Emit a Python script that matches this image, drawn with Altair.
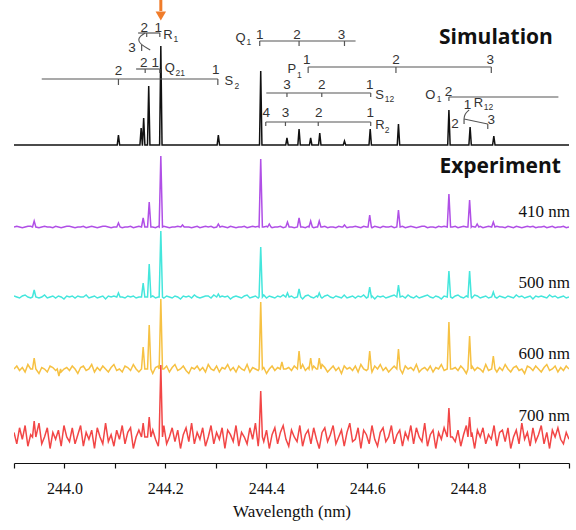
import altair as alt
import pandas as pd

# ---------------- layout constants ----------------
H = 463                      # plot height (value units == px)
WL_MIN, WL_MAX = 243.9, 245.0

# ---------------- data ----------------
tick_values = [243.9, 244.0, 244.1, 244.2, 244.3, 244.4, 244.5, 244.6, 244.7, 244.8, 244.9, 245.0]

trace_names = ["Simulation", "410 nm", "500 nm", "600 nm", "700 nm"]
trace_colors = ["#111111", "#B04FE6", "#44E6DC", "#F6C143", "#F24646"]

# Simulation peaks (wavelength nm, intensity a.u.)
sim_pos = [244.107, 244.152, 244.157, 244.167, 244.191, 244.305, 244.389, 244.441,
           244.465, 244.488, 244.506, 244.555, 244.606, 244.662, 244.762, 244.804, 244.851]
sim_int = [10, 17, 27, 59, 99, 10, 74, 7, 16, 7, 12, 4, 16, 21, 35, 18, 9]

# Experimental peaks
p410_pos = [243.940, 244.107, 244.156, 244.168, 244.191, 244.234, 244.305, 244.389, 244.406,
            244.442, 244.465, 244.488, 244.505, 244.555, 244.605, 244.662, 244.762, 244.803,
            244.818, 244.850]
p410_int = [6, 4, 9, 25, 71, 2, 3, 68, 3, 5, 9, 6, 6, 2, 12, 17, 33, 27, 3, 5]

p500_pos = [243.940, 244.107, 244.156, 244.168, 244.191, 244.305, 244.389, 244.442, 244.465,
            244.505, 244.605, 244.662, 244.762, 244.803, 244.850]
p500_int = [7, 4, 14, 33, 66, 3, 50, 4, 8, 4, 10, 12, 26, 26, 5]

p600_pos = [243.940, 243.989, 244.156, 244.168, 244.191, 244.389, 244.431, 244.465, 244.488,
            244.505, 244.605, 244.662, 244.762, 244.803, 244.850]
p600_int = [11, -7, 22, 44, 70, 67, 7, 18, 11, 11, 18, 20, 47, 33, 13]

p700_pos = [243.940, 244.156, 244.168, 244.191, 244.389, 244.762, 244.803]
p700_int = [16, 14, 20, 72, 46, 29, 20]

noise410 = [0,1,0,-1,0,1,1,0,-1,-1, 0,1,0,0,-1,1,0,-1,0,1, 1,0,-1,0,0,1,-1,0,1,0,
            -1,0,1,1,0,-1,0,1,0,-1, 0,0,1,-1,0,1,0,-1,1,0, 0,-1,1,0,1,0,-1,0,0,1,
            -1,1,0,0,-1,0,1,-1,0,1, 0,1,-1,0,0,1,0,-1,1,0, -1,0,0,1,-1,0,1,0,1,-1,
            0,1,0,-1,0,0,1,-1,0,1, 0,-1,1,0,0,-1,1,0,-1,0, 1,0,1,-1,0,0,-1,1,0,1,
            -1,0,0,1,0,-1,1,0,0,-1, 1,0,-1,1,0,0,1,-1,0,0, 1,-1,0,1,0,-1,0,1,1,-1,
            0,0,-1,1,0,1,-1,0,0,1, -1,0,1,0,-1,1,0,0,1,-1, 0,1,-1,0,1,0,0,-1,1,0,
            -1,1,0,-1,0,1,0,1,-1,0, 0,1,-1,0,1,-1,0,0,1,-1, 0]
noise500 = [1,0,-1,1,2,0,-1,0,1,-1, 0,2,-1,0,1,-1,1,0,-2,1, 0,1,-1,1,0,0,2,-1,0,1,
            -1,0,1,-2,1,0,1,-1,2,0, -1,1,0,1,-1,0,2,0,-1,1, 1,-1,0,2,-1,1,0,-1,1,0,
            -2,1,0,1,-1,2,0,-1,0,1, 1,-1,2,0,-1,1,0,1,-2,0, 1,0,-1,1,2,-1,0,1,-1,0,
            2,-1,1,0,-1,1,0,2,-1,0, 1,-1,0,1,-2,1,2,0,-1,1, 0,-1,1,2,0,-1,1,0,-1,2,
            -1,0,1,-1,1,0,2,-1,0,1, -2,1,0,1,-1,0,1,2,-1,0, 1,-1,2,0,-1,1,-1,0,1,2,
            0,-1,1,0,-2,1,0,1,-1,1, 2,0,-1,1,0,-1,2,1,-1,0, 1,-1,0,2,-1,1,0,-1,1,0,
            -1,2,0,1,-1,0,1,-2,1,0, 1,0,-1,2,0,1,-1,0,1,-1, 0]
noise600 = [0,2,-1,1,-2,3,0,-1,2,-3, 1,0,-2,2,1,-1,3,-2,0,1, -1,2,0,-3,1,2,-1,0,3,-2,
            1,-1,2,0,-2,1,3,-1,0,-2, 2,1,-1,3,0,-2,1,-1,2,0, -3,1,2,-1,0,2,-2,1,3,-1,
            0,2,-1,-3,1,0,2,-1,1,-2, 3,0,-1,2,-2,1,0,3,-1,1, -2,2,0,-1,3,-2,1,0,-1,2,
            1,-3,0,2,-1,1,3,-2,0,1, -1,2,-2,0,3,-1,1,-2,2,0, -1,3,1,-2,0,2,-1,1,-3,2,
            0,1,-1,2,-2,3,0,-1,1,-2, 2,0,3,-1,1,-2,0,2,-1,1, -3,2,0,1,-1,3,-2,0,1,-1,
            2,-2,1,0,3,-1,2,-2,0,1, -1,2,0,-3,1,2,-1,1,0,-2, 3,-1,0,2,-2,1,-1,3,0,-2,
            1,2,-1,0,-3,2,1,-1,2,0, -2,1,3,-1,0,2,-2,1,-1,2, 0]
noise700 = [2,-3,4,-1,5,-4,1,3,-2,6, -3,0,4,-5,2,-1,3,-4,5,0, -2,4,-3,1,5,-4,2,-1,3,-5,
            4,0,-3,6,-2,1,-4,3,-1,5, -3,2,4,-5,0,3,-2,5,-4,1, 3,-1,-4,2,5,-3,0,4,-2,3,
            -5,1,4,-2,6,-3,2,-1,4,-4, 0,5,-3,2,-1,4,-5,3,1,-2, 5,-4,2,0,-3,4,-1,6,-4,2,
            -2,3,-5,1,4,-3,2,5,-1,-4, 3,0,-2,5,-4,1,3,-3,4,-1, -5,2,4,-2,1,5,-3,0,3,-4,
            2,6,-2,-1,4,-5,3,1,-3,5, -1,-4,2,4,-2,0,5,-3,1,3, -4,2,-1,5,-3,4,0,-2,6,-4,
            1,3,-5,2,-1,4,-3,5,0,-2, 3,-4,1,5,-2,2,-5,3,0,4, -3,1,-1,5,-4,2,3,-2,4,-5,
            0,3,-3,6,-1,2,-4,4,-2,1, 5,-3,2,-5,3,0,4,-1,-3,2, -1]

# trace vertical offsets and noise scale (layout)
offsets = {"Simulation": 318, "410 nm": 236, "500 nm": 166, "600 nm": 94, "700 nm": 26}
noise_scale = {"410 nm": 0.7, "500 nm": 1.0, "600 nm": 1.5, "700 nm": 2.3}

# ---------------- annotation data (assignments) ----------------
bar_x1 = [244.146, 244.142, 243.955, 244.387, 244.483, 244.400, 244.399, 244.762]
bar_x2 = [244.189, 244.189, 244.304, 244.577, 244.846, 244.607, 244.607, 244.979]
bar_v = [430, 394, 384, 422, 396, 370, 341, 366]

tick_x = [244.163, 244.189, 244.160, 244.189, 244.107, 244.304, 244.387, 244.465, 244.555,
          244.483, 244.657, 244.846, 244.441, 244.510, 244.607, 244.399, 244.438, 244.503,
          244.607, 244.762, 244.153, 244.792, 244.839]
tick_v1 = [430, 430, 394, 394, 384, 384, 422, 422, 422, 396, 396, 396, 370, 370, 370,
           341, 341, 341, 341, 366, 418, 344, 339]
tick_v2 = [426, 426, 390, 390, 378, 378, 417, 417, 417, 390, 390, 390, 366, 366, 366,
           337, 337, 337, 337, 362, 412, 339, 334]

num_text = ["2", "1", "3", "2", "1", "2", "1", "1", "2", "3", "1", "2", "3",
            "3", "2", "1", "4", "3", "2", "1", "2", "1", "2", "3"]
num_x = [244.158, 244.186, 244.134, 244.157, 244.180, 244.107, 244.300, 244.387, 244.461,
         244.549, 244.480, 244.657, 244.844, 244.441, 244.510, 244.605, 244.400, 244.438,
         244.504, 244.606, 244.761, 244.799, 244.774, 244.846]
num_v = [435, 435, 415, 400, 400, 392, 393, 428, 428, 428, 403, 403, 403, 378, 378, 378,
         350, 350, 350, 350, 371, 358, 339, 343]

branch_letter = ["R", "Q", "S", "Q", "P", "S", "R", "O", "R"]
branch_sub = ["1", "21", "2", "1", "1", "12", "2", "1", "12"]
branch_x = [244.196, 244.199, 244.317, 244.339, 244.442, 244.616, 244.616, 244.715, 244.811]
branch_v = [428, 395, 382, 425, 394, 368, 338, 368, 360]
sub_x = [244.216, 244.220, 244.337, 244.361, 244.461, 244.635, 244.635, 244.738, 244.831]
sub_v = [424, 390, 377, 421, 388, 364, 333, 364, 356]

curve_grp = ["a", "a", "a", "a", "a", "b", "b", "b", "c", "c"]
curve_x = [244.160, 244.150, 244.146, 244.150, 244.170, 244.802, 244.793, 244.792, 244.792, 244.839]
curve_v = [430, 427, 423, 419, 413, 353, 349, 344, 344, 339]

arrow_x = [244.191]
panel_titles = ["Simulation", "Experiment"]
trace_labels = ["410 nm", "500 nm", "600 nm", "700 nm"]


# ---------------- build tables ----------------
def build(name, pos, ints, noise, hw):
    base = offsets[name]
    pts = []
    if noise is None:
        pts = [(WL_MIN, base), (WL_MAX, base)]
    else:
        n = len(noise)
        sc = noise_scale[name]
        for i, val in enumerate(noise):
            g = WL_MIN + (WL_MAX - WL_MIN) * i / (n - 1)
            if all(abs(g - p) > hw * 1.3 for p in pos):
                pts.append((g, base + sc * val))
    for p, h in zip(pos, ints):
        pts += [(p - hw, base), (p, base + h), (p + hw, base)]
    pts.sort()
    return pd.DataFrame({"wl": [a for a, _ in pts], "v": [b for _, b in pts],
                         "trace": name, "idx": list(range(len(pts)))})


spec = pd.concat([
    build("Simulation", sim_pos, sim_int, None, 0.0024),
    build("410 nm", p410_pos, p410_int, noise410, 0.0033),
    build("500 nm", p500_pos, p500_int, noise500, 0.0033),
    build("600 nm", p600_pos, p600_int, noise600, 0.0033),
    build("700 nm", p700_pos, p700_int, noise700, 0.0033),
], ignore_index=True)

bars = pd.DataFrame({"x": bar_x1, "x2": bar_x2, "v": bar_v})
ticks = pd.DataFrame({"x": tick_x, "v": tick_v1, "v2": tick_v2})
nums = pd.DataFrame({"x": num_x, "v": num_v, "t": num_text})
letters = pd.DataFrame({"x": branch_x, "v": branch_v, "t": branch_letter})
subs = pd.DataFrame({"x": sub_x, "v": sub_v, "t": branch_sub})
curves = pd.DataFrame({"x": curve_x, "v": curve_v, "g": curve_grp, "i": list(range(len(curve_x)))})
arrow_df = pd.DataFrame({"x": arrow_x, "v": [H + 2], "v2": [H - 11], "vt": [H - 16]})
titles_df = pd.DataFrame({"x": [244.968, 244.984], "v": [425, 296], "t": panel_titles})
labels_df = pd.DataFrame({"x": [244.900] * 4, "v": [251, 180, 109, 47], "t": trace_labels})

# ---------------- encodings ----------------
xscale = alt.Scale(domain=[WL_MIN, WL_MAX], nice=False, zero=False)
yscale = alt.Scale(domain=[0, H], nice=False, zero=False)

x_axis = alt.Axis(
    values=tick_values,
    labelExpr="(round(datum.value*10) % 2 == 0 && datum.value < 244.95) ? format(datum.value, '.1f') : ''",
    title="Wavelength (nm)", titleFont="Liberation Serif", titleFontSize=17,
    titleFontWeight="normal", titleColor="#111", titlePadding=7,
    labelFont="Liberation Serif", labelFontSize=16, labelColor="#111", labelPadding=12,
    tickColor="#111", tickSize=5, tickWidth=1.2, domainColor="#111", domainWidth=1.2,
    grid=False, labelFlush=False,
)


def X(field="x"):
    return alt.X(f"{field}:Q", scale=xscale, axis=x_axis, title="Wavelength (nm)")


def Y(field="v"):
    return alt.Y(f"{field}:Q", scale=yscale, axis=None)


lines = alt.Chart(spec).mark_line(clip=True).encode(
    x=X("wl"), y=Y("v"),
    color=alt.Color("trace:N", scale=alt.Scale(domain=trace_names, range=trace_colors), legend=None),
    strokeWidth=alt.StrokeWidth("trace:N", scale=alt.Scale(domain=trace_names, range=[1.5, 1.5, 1.5, 1.5, 1.5]), legend=None),
    order="idx:Q",
)

ann_color = "#555555"
bar_layer = alt.Chart(bars).mark_rule(color=ann_color, strokeWidth=1.2).encode(
    x=X(), x2="x2:Q", y=Y())
tick_layer = alt.Chart(ticks).mark_rule(color=ann_color, strokeWidth=1.2).encode(
    x=X(), y=Y(), y2="v2:Q")
curve_layer = alt.Chart(curves).mark_line(color=ann_color, strokeWidth=1.1, interpolate="basis").encode(
    x=X(), y=Y(), detail="g:N", order="i:Q")
num_layer = alt.Chart(nums).mark_text(font="Liberation Sans", fontSize=13.5, color="#333",
                                       align="center", baseline="middle").encode(
    x=X(), y=Y(), text="t:N")
letter_layer = alt.Chart(letters).mark_text(font="Liberation Sans", fontSize=13, color="#333",
                                             align="left", baseline="middle").encode(
    x=X(), y=Y(), text="t:N")
sub_layer = alt.Chart(subs).mark_text(font="Liberation Sans", fontSize=8.5, color="#333",
                                       align="left", baseline="middle").encode(
    x=X(), y=Y(), text="t:N")

orange = "#F07C2A"
arrow_shaft = alt.Chart(arrow_df).mark_rule(color=orange, strokeWidth=3).encode(
    x=X(), y=Y(), y2="v2:Q")
arrow_head = alt.Chart(arrow_df).mark_point(shape="triangle-down", filled=True, size=110,
                                             color=orange, opacity=1).encode(
    x=X(), y=Y("vt"))

title_layer = alt.Chart(titles_df).mark_text(font="Open Sans", fontWeight="bold", fontSize=21,
                                              color="#111", align="right", baseline="middle").encode(
    x=X(), y=Y(), text="t:N")
label_layer = alt.Chart(labels_df).mark_text(font="Liberation Serif", fontSize=17, color="#111",
                                              align="left", baseline="middle").encode(
    x=X(), y=Y(), text="t:N")

chart = alt.layer(
    lines, bar_layer, tick_layer, curve_layer, num_layer, letter_layer, sub_layer,
    arrow_shaft, arrow_head, title_layer, label_layer,
).properties(
    width=555, height=H,
    padding={"left": 14, "top": 0, "right": 7, "bottom": 67},
    autosize=alt.AutoSizeParams(type="none"),
).configure_view(stroke=None)

chart.save("out.html", embed_options={"renderer": "svg", "actions": False})
